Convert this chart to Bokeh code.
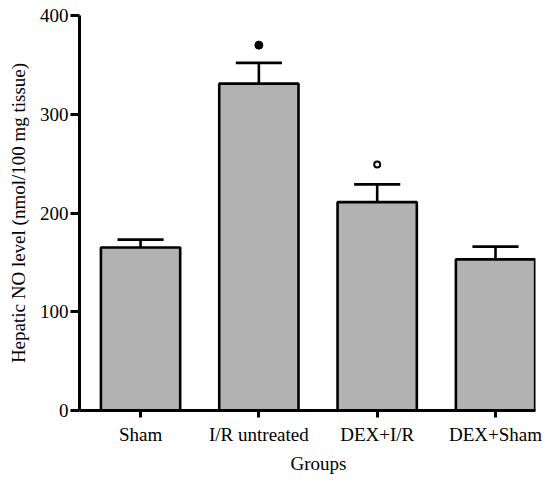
from bokeh.plotting import figure
from bokeh.models import Range1d, FixedTicker, Title
from bokeh.embed import file_html
from bokeh.resources import INLINE

groups = ["Sham", "I/R untreated", "DEX+I/R", "DEX+Sham"]
positions = [1, 2, 3, 4]
means = [165, 331, 211, 153]
errors = [8, 21, 18, 13]
filled_mark_y = [370]      # above I/R untreated
filled_mark_x = [2]
open_mark_y = [249]        # above DEX+I/R
open_mark_x = [3]
y_ticks = [0, 100, 200, 300, 400]

FONT = "Liberation Serif"

p = figure(width=545, height=477, output_backend="svg", toolbar_location=None,
           x_range=Range1d(0.484, 4.338), y_range=Range1d(0, 400),
           min_border_left=79, min_border_right=10, min_border_top=15, min_border_bottom=67)
p.grid.visible = False
p.outline_line_color = None
p.background_fill_color = "white"
p.border_fill_color = "white"

bar_w = 0.67
cap_w = 0.39
p.vbar(x=positions, top=means, bottom=0, width=bar_w,
       fill_color="#b2b2b2", line_color="black", line_width=2.6)

upper = [m + e for m, e in zip(means, errors)]
p.segment(x0=positions, y0=means, x1=positions, y1=upper, line_color="black", line_width=2.6)
p.segment(x0=[x - cap_w / 2 for x in positions], y0=upper,
          x1=[x + cap_w / 2 for x in positions], y1=upper,
          line_color="black", line_width=2.6)

p.scatter(x=filled_mark_x, y=filled_mark_y, size=8, marker="circle",
          fill_color="black", line_color="black")
p.scatter(x=open_mark_x, y=open_mark_y, size=6, marker="circle",
          fill_color="white", line_color="black", line_width=2)

xa = p.xaxis[0]
xa.ticker = FixedTicker(ticks=positions)
xa.major_label_overrides = {pos: g for pos, g in zip(positions, groups)}
xa.axis_line_width = 3
xa.major_tick_line_width = 3
xa.major_tick_out = 7
xa.major_tick_in = 0
xa.minor_tick_line_color = None
xa.major_label_standoff = 6
xa.major_label_text_font = FONT
xa.major_label_text_font_size = "19px"
xa.major_label_text_color = "black"

ya = p.yaxis[0]
ya.ticker = FixedTicker(ticks=y_ticks)
ya.axis_line_width = 3
ya.major_tick_line_width = 3
ya.major_tick_out = 9
ya.major_tick_in = 0
ya.minor_tick_line_color = None
ya.major_label_standoff = 2
ya.major_label_text_font = FONT
ya.major_label_text_font_size = "19px"
ya.major_label_text_color = "black"
ya.axis_label = "Hepatic NO level (nmol/100 mg tissue)"
ya.axis_label_text_font = FONT
ya.axis_label_text_font_size = "19px"
ya.axis_label_text_font_style = "normal"
ya.axis_label_text_color = "black"
ya.axis_label_standoff = 8

p.add_layout(Title(text="Groups", align="left", offset=211, text_font=FONT,
                   text_font_size="19px", text_font_style="normal",
                   text_color="black", standoff=6, vertical_align="bottom"), "below")

open("out.html", "w").write(file_html(p, INLINE))
